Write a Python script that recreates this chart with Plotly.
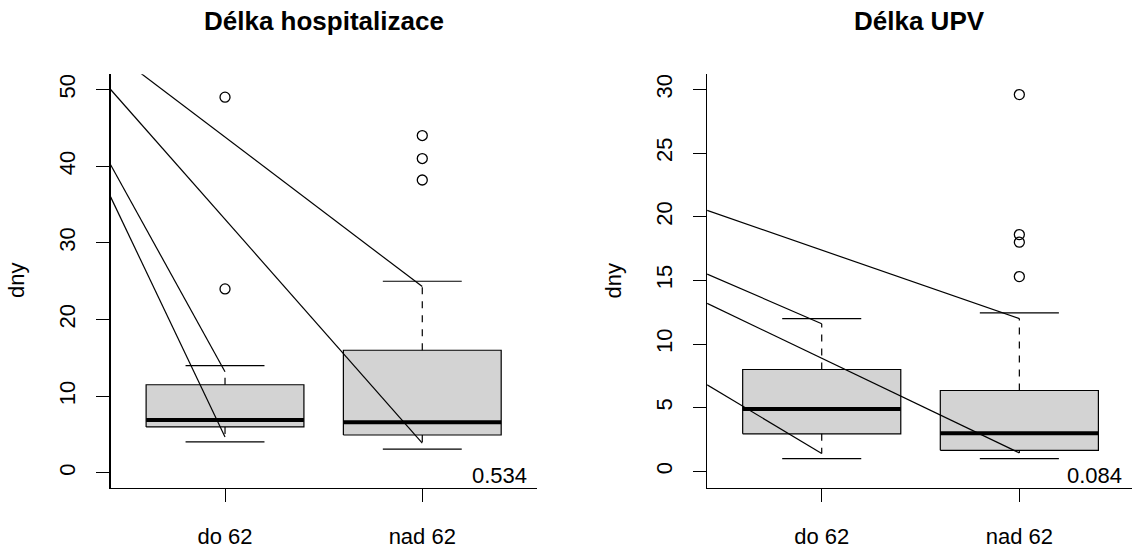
import plotly.graph_objects as go

# ---------------- data ----------------
groups = ["do 62", "nad 62"]
group_pos = [1, 2]
titles = ["Délka hospitalizace", "Délka UPV"]
p_values = ["0.534", "0.084"]
y_title = "dny"

# Délka hospitalizace – box statistics per group
hosp_q1 = [6.0, 4.95]
hosp_median = [6.9, 6.6]
hosp_q3 = [11.5, 16.0]
hosp_cap_lo = [4.05, 3.1]
hosp_cap_hi = [14.0, 25.0]
hosp_whisk_lo = [4.7, 3.9]     # dashed whisker end (below box)
hosp_whisk_hi = [13.2, 24.3]   # dashed whisker end (above box)
hosp_out_group = [1, 1, 2, 2, 2]
hosp_out_val = [49.0, 24.0, 44.0, 41.0, 38.2]
hosp_seg_start = [55.1, 50.0, 40.2, 36.0]
hosp_seg_group = [2, 2, 1, 1]
hosp_seg_end = [24.3, 3.9, 13.2, 4.7]

# Délka UPV – box statistics per group
upv_q1 = [2.95, 1.65]
upv_median = [4.9, 3.0]
upv_q3 = [8.0, 6.35]
upv_cap_lo = [1.0, 1.0]
upv_cap_hi = [12.0, 12.45]
upv_whisk_lo = [1.4, 1.45]
upv_whisk_hi = [11.6, 12.0]
upv_out_group = [2, 2, 2, 2]
upv_out_val = [29.6, 18.6, 18.0, 15.3]
upv_seg_start = [20.5, 15.5, 13.2, 6.8]
upv_seg_group = [2, 1, 2, 1]
upv_seg_end = [12.0, 11.6, 1.45, 1.4]

hosp_ticks = [0, 10, 20, 30, 40, 50]
upv_ticks = [0, 5, 10, 15, 20, 25, 30]

# ---------------- style ----------------
W, H = 1132, 549
FONT = "Liberation Sans, Arial, Helvetica, sans-serif"
BOXW = 0.4
CAPW = 0.2
XLEFT = 0.42

fig = go.Figure()


def add_panel(xa, ya, q1, med, q3, cap_lo, cap_hi, w_lo, w_hi,
              out_g, out_v, seg_s, seg_g, seg_e):
    # boxes
    for c, a, m, b in zip(group_pos, q1, med, q3):
        fig.add_trace(go.Scatter(
            x=[c - BOXW, c + BOXW, c + BOXW, c - BOXW, c - BOXW],
            y=[a, a, b, b, a], mode="lines", fill="toself",
            fillcolor="#D3D3D3", line=dict(color="black", width=1.2),
            xaxis=xa, yaxis=ya, hoverinfo="skip", showlegend=False))
        fig.add_trace(go.Scatter(
            x=[c - BOXW, c + BOXW], y=[m, m], mode="lines",
            line=dict(color="black", width=4),
            xaxis=xa, yaxis=ya, hoverinfo="skip", showlegend=False))
    # dashed whiskers
    wx, wy = [], []
    for c, a, b, lo, hi in zip(group_pos, q1, q3, w_lo, w_hi):
        wx += [c, c, None, c, c, None]
        wy += [b, hi, None, a, lo, None]
    fig.add_trace(go.Scatter(
        x=wx, y=wy, mode="lines",
        line=dict(color="black", width=1.2, dash="7px,7px"),
        xaxis=xa, yaxis=ya, hoverinfo="skip", showlegend=False))
    # caps
    cx, cy = [], []
    for c, lo, hi in zip(group_pos, cap_lo, cap_hi):
        cx += [c - CAPW, c + CAPW, None, c - CAPW, c + CAPW, None]
        cy += [hi, hi, None, lo, lo, None]
    fig.add_trace(go.Scatter(
        x=cx, y=cy, mode="lines", line=dict(color="black", width=1.2),
        xaxis=xa, yaxis=ya, hoverinfo="skip", showlegend=False))
    # outliers
    fig.add_trace(go.Scatter(
        x=out_g, y=out_v, mode="markers",
        marker=dict(symbol="circle-open", size=10, color="black",
                    line=dict(width=1.3)),
        xaxis=xa, yaxis=ya, hoverinfo="skip", showlegend=False))
    # stray segments from the left edge
    sx, sy = [], []
    for s, g, e in zip(seg_s, seg_g, seg_e):
        sx += [XLEFT, g, None]
        sy += [s, e, None]
    fig.add_trace(go.Scatter(
        x=sx, y=sy, mode="lines", line=dict(color="black", width=1.2),
        xaxis=xa, yaxis=ya, hoverinfo="skip", showlegend=False))


add_panel("x", "y", hosp_q1, hosp_median, hosp_q3, hosp_cap_lo, hosp_cap_hi,
          hosp_whisk_lo, hosp_whisk_hi, hosp_out_group, hosp_out_val,
          hosp_seg_start, hosp_seg_group, hosp_seg_end)
add_panel("x2", "y2", upv_q1, upv_median, upv_q3, upv_cap_lo, upv_cap_hi,
          upv_whisk_lo, upv_whisk_hi, upv_out_group, upv_out_val,
          upv_seg_start, upv_seg_group, upv_seg_end)

ydom = [(549 - 493.3) / H, (549 - 75) / H]
xdom1 = [110.6 / W, 536.7 / W]
xdom2 = [707.1 / W, 1.0]

xcommon = dict(showline=True, linecolor="black", linewidth=1.2, ticks="outside",
               ticklen=13, tickwidth=1.2, tickcolor="black", tickvals=group_pos,
               ticktext=groups, showgrid=False, zeroline=False,
               tickfont=dict(size=22, color="black", family=FONT),
               ticklabelstandoff=16, fixedrange=True)
ycommon = dict(showline=True, linecolor="black", ticks="outside",
               ticklen=13, tickwidth=1.2, tickcolor="black", showgrid=False,
               zeroline=False, tickangle=-90,
               tickfont=dict(size=22, color="black", family=FONT),
               ticklabelstandoff=12, fixedrange=True)

fig.update_layout(
    width=W, height=H, margin=dict(l=0, r=0, t=0, b=0),
    paper_bgcolor="white", plot_bgcolor="white",
    font=dict(family=FONT, color="black"),
    showlegend=False,
    xaxis=dict(domain=xdom1, range=[XLEFT, 2.58], anchor="y", **xcommon),
    yaxis=dict(domain=ydom, range=[-1.95, 52.0], anchor="x", tickvals=hosp_ticks,
               linewidth=2, **ycommon),
    xaxis2=dict(domain=xdom2, range=[XLEFT, 2.57], anchor="y2", **xcommon),
    yaxis2=dict(domain=ydom, range=[-1.3, 31.2], anchor="x2", tickvals=upv_ticks,
                linewidth=1.3, **ycommon),
)

annots = []
for i, (xd, t, p) in enumerate(zip([xdom1, xdom2], titles, p_values)):
    xr = "x domain" if i == 0 else "x2 domain"
    yr = "y domain" if i == 0 else "y2 domain"
    annots.append(dict(text="<b>" + t + "</b>", xref="paper", yref="paper",
                       x=(xd[0] + xd[1]) / 2, y=(H - 21) / H,
                       xanchor="center", yanchor="middle", showarrow=False,
                       font=dict(size=26, family=FONT, color="black")))
    annots.append(dict(text=p, xref=xr, yref=yr, x=1, y=0, xshift=-8, yshift=12,
                       xanchor="right", yanchor="middle", showarrow=False,
                       font=dict(size=22, family=FONT, color="black")))
    annots.append(dict(text=y_title, xref="paper", yref="paper",
                       x=(xd[0] * W - 93.5) / W, y=(H - 284) / H,
                       xanchor="center", yanchor="middle", textangle=-90,
                       showarrow=False,
                       font=dict(size=22, family=FONT, color="black")))
fig.update_layout(annotations=annots)

fig.write_html("out.html")
